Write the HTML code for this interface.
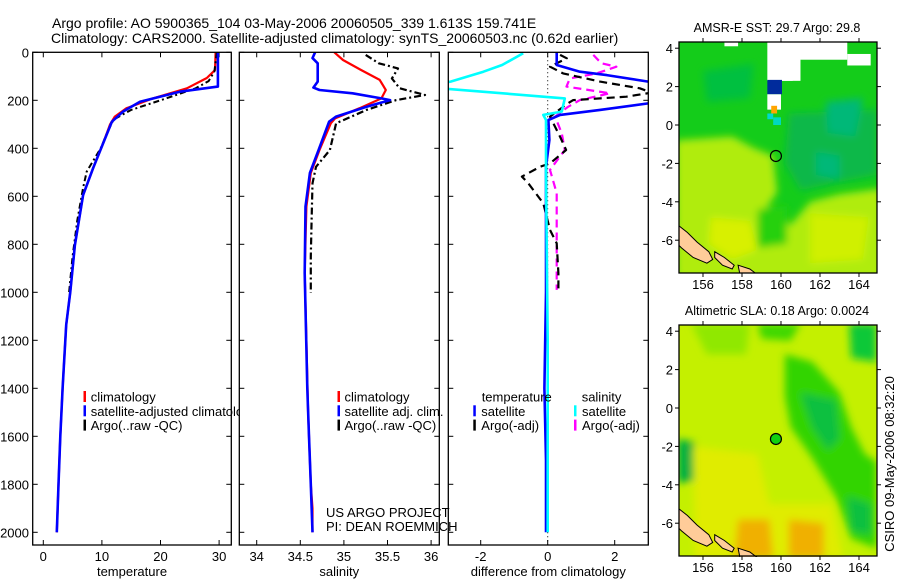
<!DOCTYPE html>
<html><head><meta charset="utf-8"><title>Argo profile</title>
<style>
html,body{margin:0;padding:0;background:#fff;}
svg{display:block;font-family:"Liberation Sans",Arial,sans-serif;}
text{fill:#000;}
</style></head>
<body>
<svg id="fig" width="900" height="580" viewBox="0 0 900 580" xmlns="http://www.w3.org/2000/svg">
<defs>
<filter id="blur4" x="-20%" y="-20%" width="140%" height="140%"><feGaussianBlur stdDeviation="4"/></filter>
<clipPath id="clipP1"><rect x="32.7" y="52.3" width="198.6" height="492.7"/></clipPath>
<clipPath id="clipP2"><rect x="239.3" y="52.3" width="200" height="492.7"/></clipPath>
<clipPath id="clipP3"><rect x="448.3" y="52.3" width="200" height="492.7"/></clipPath>
<clipPath id="clipM1"><rect x="679" y="42" width="198" height="231"/></clipPath>
<clipPath id="clipM2"><rect x="679" y="325" width="198" height="232"/></clipPath>
</defs>
<text x="52" y="28" font-size="14">Argo profile: AO 5900365_104 03-May-2006 20060505_339 1.613S 159.741E</text>
<text x="51" y="43" font-size="14">Climatology: CARS2000. Satellite-adjusted climatology: synTS_20060503.nc (0.62d earlier)</text>
<g id="layer"></g>
</svg>
<script>
// ---------- profile data (depth in m) ----------
const tClimDepth = [0,74,107,150,192,233,268,300,386,483,595,803,998,1136,1400,1600,1800,2000];
const tClimVal   = [29.4,29.3,27.9,24.5,18.7,14.2,12.2,11.4,10.1,8.5,6.8,5.4,4.6,3.9,3.3,2.9,2.6,2.3];
const tSatDepth  = [0,143,164,206,247,289,386,483,595,803,998,1136,1400,1600,1800,2000];
const tSatVal    = [29.8,29.8,23.3,16.5,13.6,11.7,10.1,8.5,6.8,5.4,4.6,3.9,3.3,2.9,2.6,2.3];
const tArgoDepth = [0,80,120,150,200,240,280,330,400,497,565,700,850,1000];
const tArgoVal   = [29.6,29.2,28.2,26.0,20.0,15.0,12.0,11.0,9.8,7.4,6.8,5.8,5.0,4.4];

const sClimDepth = [0,32,74,115,157,192,233,275,296,407,503,643,920,1200,1500,1800,1900,2000];
const sClimVal   = [34.89,34.99,35.2,35.41,35.48,35.43,35.18,34.9,34.85,34.72,34.62,34.57,34.55,34.57,34.59,34.62,34.64,34.64];
const sSatDepth  = [0,24,46,122,147,157,171,192,199,227,268,289,407,503,643,920,1400,1600,1800,2000];
const sSatVal    = [34.67,34.64,34.7,34.7,34.65,34.72,35.1,35.43,35.53,35.26,34.91,34.83,34.71,34.61,34.56,34.55,34.58,34.6,34.62,34.64];
const sArgoDepth = [11,46,67,109,150,178,199,240,296,407,477,546,700,850,1003];
const sArgoVal   = [35.25,35.4,35.62,35.55,35.64,35.93,35.6,35.26,34.91,34.84,34.68,34.64,34.63,34.62,34.62];

const dTSatDepth = [0,53,81,95,122,150,200,213,240,261,282,365,477,700,1000,1400,1700,2000];
const dTSatVal   = [0.27,0.27,0.96,1.76,3.0,3.6,3.6,3.0,1.56,0.37,0.02,0.05,-0.05,-0.05,-0.05,-0.1,-0.05,-0.05];
const dSSatDepth = [4,53,81,122,135,150,192,247,261,282,504,1199,1600,2000];
const dSSatVal   = [-0.73,-1.36,-1.92,-2.9,-3.4,-3.2,0.51,0.42,-0.13,-0.05,-0.05,0.0,0.0,0.0];
const dTArgoDepth = [11,25,46,60,88,122,150,168,185,199,213,268,352,407,463,477,518,546,629,740,796,921,1000];
const dTArgoVal   = [0.37,0.57,0.27,0.07,0.46,1.56,2.75,3.1,2.35,0.76,0.6,0.07,0.37,0.55,0.07,-0.23,-0.77,-0.58,-0.13,0.07,0.27,0.32,0.32];
const dSArgoDepth = [11,46,60,88,109,143,171,199,227,268,338,407,490,587,800,990];
const dSArgoVal   = [1.36,1.6,2.05,1.46,0.66,0.56,1.86,0.96,0.61,0.22,0.42,0.51,0.07,0.27,0.27,0.27];

const depthTicks = [0,200,400,600,800,1000,1200,1400,1600,1800,2000];
const tempTicks = [0,10,20,30];
const salTicks = [34,34.5,35,35.5,36];
const salTickLabels = ["34","34.5","35","35.5","36"];
const diffTicks = [-2,0,2];
const lonTicks = [156,158,160,162,164];
const latTicks = [4,2,0,-2,-4,-6];

const NS = "http://www.w3.org/2000/svg";
const layer = document.getElementById('layer');
function el(tag, attrs, parent){
  const e = document.createElementNS(NS, tag);
  for (const k in attrs) e.setAttribute(k, attrs[k]);
  (parent||layer).appendChild(e);
  return e;
}
function txt(s, x, y, size, anchor, parent){
  const t = el('text', {x:x, y:y, 'font-size':size, 'text-anchor':anchor||'start'}, parent);
  t.textContent = s;
  return t;
}

// depth axis (shared)
const yTop = 52.3, yBot = 545, pxPerM = 0.24;
function yD(d){ return yTop + d*pxPerM; }

const panels = [
  {name:'temperature', x0:32.7, x1:231.3, fx:v=>43.3+v*5.86, clip:'clipP1', ticks:tempTicks, labels:tempTicks.map(String), xlabel:'temperature'},
  {name:'salinity', x0:239.3, x1:439.3, fx:v=>256.7+(v-34)*87.2, clip:'clipP2', ticks:salTicks, labels:salTickLabels, xlabel:'salinity'},
  {name:'difference', x0:448.3, x1:648.3, fx:v=>547.7+v*33.5, clip:'clipP3', ticks:diffTicks, labels:diffTicks.map(String), xlabel:'difference from climatology'}
];

function line(depths, vals, p, color, width, dash, dname){
  const pts = depths.map((d,i)=> p.fx(vals[i]).toFixed(1)+','+yD(d).toFixed(1)).join(' ');
  const pl = el('polyline', {points:pts, fill:'none', stroke:color, 'stroke-width':width, 'clip-path':'url(#'+p.clip+')', 'stroke-linejoin':'round'}, p.g);
  if (dash) pl.setAttribute('stroke-dasharray', dash);
  
  
  return pl;
}

panels.forEach((p,pi)=>{
  const g = el('g', {});
  
  
  p.g = g;
  const bg = el('rect', {x:p.x0, y:yTop, width:p.x1-p.x0, height:yBot-yTop, fill:'#fff', stroke:'none'}, g);
  
  
  // x ticks
  p.ticks.forEach((v,i)=>{
    const x = p.fx(v);
    el('line', {x1:x, x2:x, y1:yBot, y2:yBot-5, stroke:'#000', 'stroke-width':1}, g);
    el('line', {x1:x, x2:x, y1:yTop, y2:yTop+5, stroke:'#000', 'stroke-width':1}, g);
    const t = txt(p.labels[i], x, 561, 13, 'middle', g);
    
    
  });
  depthTicks.forEach(d=>{
    const y = yD(d);
    el('line', {x1:p.x0, x2:p.x0+5, y1:y, y2:y, stroke:'#000', 'stroke-width':1}, g);
    el('line', {x1:p.x1, x2:p.x1-5, y1:y, y2:y, stroke:'#000', 'stroke-width':1}, g);
    if (pi===0){
      const t = txt(String(d), 29, y+5, 13, 'end', g);
      
      
    }
  });
  const xl = txt(p.xlabel, (p.x0+p.x1)/2, 576, 13, 'middle', g);
  
  
});

// panel 1 series
line(tClimDepth, tClimVal, panels[0], '#ff0000', 2.2, null, 'temp-climatology-line');
line(tArgoDepth, tArgoVal, panels[0], '#000', 2, '6,3,2,3', 'temp-argo-line');
line(tSatDepth, tSatVal, panels[0], '#0000ff', 2.6, null, 'temp-satellite-line');
// panel 2
line(sClimDepth, sClimVal, panels[1], '#ff0000', 2.2, null, 'sal-climatology-line');
line(sArgoDepth, sArgoVal, panels[1], '#000', 2.2, '7,3,2,3', 'sal-argo-line');
line(sSatDepth, sSatVal, panels[1], '#0000ff', 2.6, null, 'sal-satellite-line');
// panel 3
(function(){
  const p = panels[2];
  const z = el('line', {x1:p.fx(0), x2:p.fx(0), y1:yTop, y2:yBot, stroke:'#000', 'stroke-width':1, 'stroke-dasharray':'1,3'}, p.g);
  
  
})();
line(dSArgoDepth, dSArgoVal, panels[2], '#ff00ff', 2.2, '8,5', 'sal-argo-diff-line');
line(dTArgoDepth, dTArgoVal, panels[2], '#000', 2.2, '8,5', 'temp-argo-diff-line');
line(dTSatDepth, dTSatVal, panels[2], '#0000ff', 2.6, null, 'temp-satellite-diff-line');
line(dSSatDepth, dSSatVal, panels[2], '#00ffff', 2.6, null, 'sal-satellite-diff-line');

// borders
panels.forEach(p=>{
  const b = el('rect', {x:p.x0, y:yTop, width:p.x1-p.x0, height:yBot-yTop, fill:'none', stroke:'#000', 'stroke-width':1.3}, p.g);
  
  
});

// legends
function legend(items, x, parentName){
  items.forEach((it,i)=>{
    const y = 397 + i*14.3;
    const m = el('rect', {x:x, y:y-6, width:2.5, height:11, fill:it[1]});
    
    
    const t = txt(it[0], x+7, y+4.5, 13, 'start');
    
    
  });
}
// panel1 legend must be below panel2 background: insert before panel 2 group
(function(){
  const g = el('g', {});
  
  
  layer.insertBefore(g, panels[1].g);
  [['climatology','#ff0000'],['satellite-adjusted climatology','#0000ff'],['Argo(..raw -QC)','#000']].forEach((it,i)=>{
    const y = 397 + i*14.3;
    const m = el('rect', {x:83.5, y:y-6, width:2.5, height:11, fill:it[1]}, g);
    
    
    const t = txt(it[0], 90.7, y+4.5, 13, 'start', g);
    
    
  });
})();
legend([['climatology','#ff0000'],['satellite adj. clim.','#0000ff'],['Argo(..raw -QC)','#000']], 337.5, 'salinity-legend');
(function(){
  const t1 = txt('temperature', 481.7, 401.5, 13);
  
  
  const t2 = txt('salinity', 581.7, 401.5, 13);
  
  
  [['satellite','#0000ff',473.3],['Argo(-adj)','#000',473.3],['satellite','#00ffff',574],['Argo(-adj)','#ff00ff',574]].forEach((it,i)=>{
    const y = 397 + (1+(i%2))*14.3;
    const m = el('rect', {x:it[2], y:y-6, width:2.5, height:11, fill:it[1]});
    
    
    const t = txt(it[0], it[2]+8, y+4.5, 13);
    
    
  });
})();
(function(){
  const a = txt('US ARGO PROJECT', 326, 517, 13);
  
  
  const b = txt('PI: DEAN ROEMMICH', 326, 531, 13);
  
  
})();

// ---------- maps ----------
const argoLon = 159.741, argoLat = -1.613;
function makeMap(top, name, title, blobs, extra){
  const left = 679, right = 877, bottom = top+231;
  const lon0 = 154.77, pxDeg = 19.5;
  const lat0Y = top + 83; // y of latitude 0
  const fx = lon => left + (lon-lon0)*pxDeg;
  const fy = lat => lat0Y - lat*19.2;
  const g = el('g', {});
  
  
  const cg = el('g', {'clip-path':'url(#'+(top<200?'clipM1':'clipM2')+')'}, g);
  const base = el('rect', {x:left, y:top, width:right-left, height:bottom-top, fill:blobs.base}, cg);
  
  
  const bg = el('g', {filter:'url(#blur4)'}, cg);
  blobs.polys.forEach(pp=>{
    const pts = pp.pts.map(q=>fx(q[0]).toFixed(1)+','+fy(q[1]).toFixed(1)).join(' ');
    el('polygon', {points:pts, fill:pp.c}, bg);
  });
  (blobs.sharp||[]).forEach(pp=>{
    const r = el('rect', {x:fx(pp[0]), y:fy(pp[3]), width:(pp[1]-pp[0])*pxDeg, height:(pp[3]-pp[2])*19.2, fill:pp[4]}, cg);
    
    
  });
  // land
  const lands = [
    [[154.7,-5.2],[155.2,-5.6],[155.7,-6.1],[156.3,-6.6],[156.5,-7.0],[156.2,-7.2],[155.5,-6.9],[154.9,-6.4],[154.7,-6.2]],
    [[156.6,-6.6],[157.1,-6.9],[157.6,-7.3],[157.5,-7.5],[157.0,-7.3],[156.6,-6.9]],
    [[157.8,-7.3],[158.4,-7.5],[158.8,-7.8],[157.9,-7.8]]
  ];
  lands.forEach(L=>{
    const pts = L.map(q=>fx(q[0]).toFixed(1)+','+fy(q[1]).toFixed(1)).join(' ');
    const p = el('polygon', {points:pts, fill:'#ffcc99', stroke:'#000', 'stroke-width':1}, cg);
    
    
  });
  const c = el('circle', {cx:fx(argoLon), cy:fy(argoLat), r:5.5, fill:extra.fill, stroke:'#000', 'stroke-width':1.2}, g);
  
  
  const fr = el('rect', {x:left, y:top, width:right-left, height:bottom-top, fill:'none', stroke:'#000', 'stroke-width':1.3}, g);
  
  
  lonTicks.forEach(v=>{
    const x = fx(v);
    el('line', {x1:x, x2:x, y1:bottom, y2:bottom+4, stroke:'#000'}, g);
    el('line', {x1:x, x2:x, y1:top, y2:top-4, stroke:'#000'}, g);
    const t = txt(String(v), x, bottom+16, 13, 'middle', g);
    
    
  });
  latTicks.forEach(v=>{
    const y = fy(v);
    el('line', {x1:left, x2:left-4, y1:y, y2:y, stroke:'#000'}, g);
    el('line', {x1:right, x2:right+4, y1:y, y2:y, stroke:'#000'}, g);
    const t = txt(String(v), 673, y+5, 13, 'end', g);
    
    
  });
  const tt = txt(title, 777, top-10, 12.5, 'middle', g);
  
  
}

makeMap(42, 'sst-map', 'AMSR-E SST: 29.7 Argo: 29.8', {
  base:'#14cc1a',
  polys:[
    {c:'#b0ec10', pts:[[154.6,-0.8],[157.5,-0.6],[158.6,-1.2],[159.6,-1.6],[159.8,-3.5],[159.2,-4.4],[160.5,-5.2],[161.5,-4.0],[163,-3.6],[165.2,-3.3],[165.2,-8],[154.6,-8]]},
    {c:'#d8f000', pts:[[156.4,-4.8],[158.4,-5.0],[158.8,-6.5],[157.5,-7.0],[156.3,-6.2]]},
    {c:'#d0f000', pts:[[161.5,-4.6],[164.5,-4.8],[164.2,-7.0],[161.5,-7.2]]},
    {c:'#0cb84a', pts:[[160.4,0.6],[164.9,0.8],[164.9,-2.6],[162.8,-3.0],[161.0,-3.4],[160.2,-2.0]]},
    {c:'#00b878', pts:[[162.3,1.2],[164.2,1.4],[163.8,-0.6],[162.4,-0.4]]},
    {c:'#00b878', pts:[[161.8,-1.4],[163.0,-1.6],[163.0,-2.8],[161.8,-2.6]]},
    {c:'#28d010', pts:[[158.8,-4.4],[160.3,-4.2],[160.3,-6.2],[158.8,-6.4]]},
    {c:'#00c040', pts:[[156.0,2.8],[158.6,3.2],[158.4,1.4],[156.2,1.2]]}
  ],
  sharp:[
    [159.3,161.0,2.3,4.4,'#ffffff'],[160.9,163.4,3.4,4.4,'#ffffff'],[163.4,164.6,3.1,3.7,'#ffffff'],
    [160.0,160.6,2.3,3.0,'#ffffff'],[157.1,157.8,4.1,4.4,'#ffffff'],
    [159.3,160.05,1.6,2.35,'#002b9c'],[159.3,160.0,0.8,1.6,'#ffffff'],
    [159.5,159.8,0.6,1.0,'#ffa500'],[159.3,159.6,0.3,0.6,'#00d8d0'],[159.6,160.0,0,0.4,'#00d8c0'],
    [154.8,155.0,-2.4,-2.8,'#002b9c'],[154.8,155.2,-3.9,-4.2,'#ffffff'],
    [159.3,159.5,-4.9,-5.1,'#0030c0'],[159.5,160.0,-5.0,-5.3,'#00d8d0'],[159.8,160.1,-4.8,-5.1,'#ffffff']
  ]
}, {fill:'none'});

makeMap(325, 'sla-map', 'Altimetric SLA: 0.18 Argo: 0.0024', {
  base:'#c4f000',
  polys:[
    {c:'#90e800', pts:[[155.4,4.4],[158.4,4.4],[158.2,2.8],[156.2,2.8]]},
    {c:'#40d800', pts:[[158.8,4.4],[161.0,4.4],[160.5,3.5],[159.0,3.6]]},
    {c:'#30d400', pts:[[160.2,2.8],[161.6,2.4],[163.0,0.8],[163.6,-1.0],[164.3,-2.4],[164.9,-2.8],[164.9,-7.3],[163.6,-6.8],[162.8,-4.6],[161.6,-2.6],[160.5,-1.0],[160.2,0.6]]},
    {c:'#10c040', pts:[[161.0,0.8],[162.8,0.4],[163.0,-1.6],[162.4,-2.2],[161.6,-1.0]]},
    {c:'#10c040', pts:[[163.4,-4.6],[164.6,-5.0],[164.6,-6.6],[163.6,-6.4]]},
    {c:'#10c838', pts:[[163.5,4.4],[164.9,4.4],[164.9,2.4],[163.6,2.6]]},
    {c:'#00b040', pts:[[154.7,-1.6],[155.6,-1.8],[155.6,-3.8],[154.7,-3.9]]},
    {c:'#e0ec00', pts:[[155.5,-2.0],[158.8,-2.4],[159.4,-5.0],[162.6,-5.0],[163.2,-7.8],[155.6,-7.8]]},
    {c:'#f0b000', pts:[[157.8,-5.8],[159.4,-5.8],[159.6,-7.8],[157.6,-7.8]]},
    {c:'#f0b000', pts:[[160.4,-5.8],[162.2,-6.0],[162.2,-7.8],[160.4,-7.8]]}
  ],
  sharp:[]
}, {fill:'#10d010'});

(function(){
  const t = el('text', {x:0, y:0, 'font-size':13, 'text-anchor':'middle', transform:'translate(894,464) rotate(-90)'});
  t.textContent = 'CSIRO 09-May-2006 08:32:20';
  
  
})();
</script>
</body></html>
